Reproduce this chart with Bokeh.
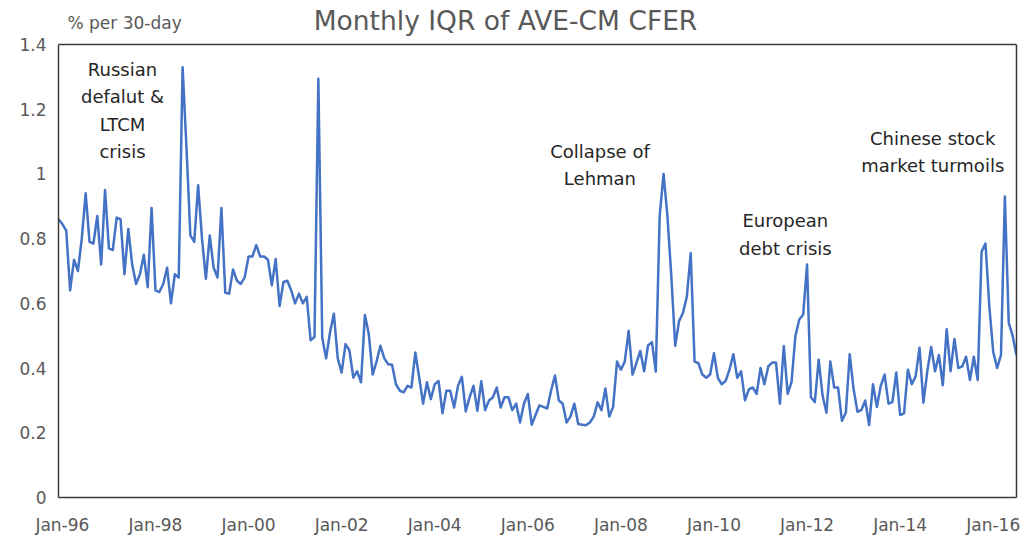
from bokeh.plotting import figure
from bokeh.models import FixedTicker, Label, LinearAxis, Span
from bokeh.embed import file_html
from bokeh.resources import INLINE

# ---- data (monthly IQR, % per 30-day) ----
iqr_a = [0.86, 0.845, 0.825, 0.64, 0.735, 0.70, 0.80, 0.94, 0.79, 0.785, 0.87, 0.72,
         0.95, 0.77, 0.765, 0.865, 0.86, 0.69, 0.83, 0.72, 0.66, 0.69, 0.75, 0.65]
iqr_b = [0.895, 0.64, 0.635, 0.66, 0.71, 0.60, 0.69, 0.68, 1.33, 1.08, 0.81, 0.79,
         0.965, 0.80, 0.676, 0.81, 0.71, 0.68, 0.895, 0.633, 0.63, 0.705, 0.67, 0.66]
iqr_c = [0.68, 0.745, 0.745, 0.78, 0.745, 0.745, 0.735, 0.656, 0.737, 0.592, 0.666, 0.67,
         0.64, 0.60, 0.63, 0.60, 0.62, 0.486, 0.496, 1.294, 0.494, 0.43, 0.51, 0.568]
iqr_d = [0.43, 0.386, 0.474, 0.455, 0.371, 0.39, 0.356, 0.564, 0.505, 0.38, 0.42, 0.469,
         0.43, 0.412, 0.41, 0.35, 0.33, 0.325, 0.345, 0.34, 0.448, 0.37, 0.29, 0.356]
iqr_e = [0.304, 0.35, 0.36, 0.26, 0.33, 0.33, 0.278, 0.345, 0.373, 0.266, 0.31, 0.345,
         0.268, 0.359, 0.27, 0.30, 0.31, 0.34, 0.278, 0.31, 0.31, 0.27, 0.29, 0.232]
iqr_f = [0.29, 0.32, 0.225, 0.255, 0.285, 0.28, 0.275, 0.33, 0.377, 0.30, 0.29, 0.232,
         0.25, 0.29, 0.227, 0.225, 0.223, 0.232, 0.25, 0.294, 0.27, 0.337, 0.25, 0.28]
iqr_g = [0.42, 0.395, 0.42, 0.515, 0.38, 0.415, 0.453, 0.39, 0.47, 0.48, 0.389, 0.87,
         1.0, 0.87, 0.685, 0.469, 0.545, 0.57, 0.62, 0.755, 0.42, 0.415, 0.38, 0.37]
iqr_h = [0.38, 0.446, 0.37, 0.35, 0.36, 0.395, 0.443, 0.37, 0.39, 0.30, 0.334, 0.34,
         0.32, 0.40, 0.35, 0.405, 0.417, 0.417, 0.29, 0.468, 0.32, 0.357, 0.50, 0.55]
iqr_i = [0.565, 0.72, 0.31, 0.295, 0.426, 0.315, 0.262, 0.42, 0.34, 0.34, 0.237, 0.262,
         0.443, 0.335, 0.265, 0.27, 0.30, 0.224, 0.35, 0.28, 0.345, 0.38, 0.29, 0.295]
iqr_j = [0.386, 0.255, 0.26, 0.395, 0.35, 0.375, 0.463, 0.293, 0.39, 0.465, 0.39, 0.44,
         0.347, 0.52, 0.39, 0.49, 0.40, 0.405, 0.435, 0.363, 0.435, 0.363, 0.76, 0.785]
iqr_k = [0.59, 0.45, 0.40, 0.44, 0.93, 0.54, 0.50, 0.44]

tick_labels = ["Jan-96", "Jan-98", "Jan-00", "Jan-02", "Jan-04", "Jan-06",
               "Jan-08", "Jan-10", "Jan-12", "Jan-14", "Jan-16"]
y_ticks = [0, 0.2, 0.4, 0.6, 0.8, 1.0, 1.2, 1.4]
y_tick_labels = ["0", "0.2", "0.4", "0.6", "0.8", "1", "1.2", "1.4"]

title_text = "Monthly IQR of AVE-CM CFER"
unit_text = "% per 30-day"
note_russia = "Russian\ndefalut &\nLTCM\ncrisis"
note_lehman = "Collapse of\nLehman"
note_europe = "European\ndebt crisis"
note_china = "Chinese stock\nmarket turmoils"

iqr = iqr_a + iqr_b + iqr_c + iqr_d + iqr_e + iqr_f + iqr_g + iqr_h + iqr_i + iqr_j + iqr_k
months = list(range(len(iqr)))

FONT = "DejaVu Sans"
GRAY = "#595959"
DARK = "#262626"
FRAME = "#3a3a3a"
Y_MAX = 1.4
Y_TOP = 1.5113  # extra headroom inside the frame for the title row

p = figure(width=1028, height=537, x_range=(0, len(iqr) - 1), y_range=(0, Y_TOP),
           output_backend="svg", toolbar_location=None,
           min_border_left=58, min_border_right=12, min_border_top=8, min_border_bottom=40)

p.line(months, iqr, line_color="#4472C4", line_width=2.5, line_join="round")

# axes
tick_pos = [1 + 24 * i for i in range(len(tick_labels))]
p.xaxis.ticker = FixedTicker(ticks=tick_pos)
p.xaxis.major_label_overrides = {t: l for t, l in zip(tick_pos, tick_labels)}
p.yaxis.ticker = FixedTicker(ticks=y_ticks)
p.yaxis.major_label_overrides = {t: l for t, l in zip(y_ticks, y_tick_labels)}
p.yaxis.bounds = (0, Y_MAX)
right_axis = LinearAxis(bounds=(0, Y_MAX), major_label_text_font_size="0px",
                        major_tick_line_color=None, minor_tick_line_color=None,
                        axis_line_color=FRAME, axis_line_width=1.5,
                        ticker=FixedTicker(ticks=[]))
p.add_layout(right_axis, "right")
for ax in (p.xaxis[0], p.yaxis[0]):
    ax.axis_line_color = FRAME
    ax.axis_line_width = 1.5
    ax.major_tick_line_color = None
    ax.minor_tick_line_color = None
    ax.major_tick_out = 0
    ax.major_tick_in = 0
    ax.major_label_text_font = FONT
    ax.major_label_text_font_size = "17px"
    ax.major_label_text_color = GRAY
p.xaxis.major_label_standoff = 17
p.yaxis[0].major_label_standoff = 12
p.grid.visible = False
p.outline_line_color = None
p.background_fill_color = "white"
p.border_fill_color = "white"

# top edge of the plot box at 1.4
p.add_layout(Span(location=Y_MAX, dimension="width", line_color=FRAME, line_width=1.5))

# title and unit label
p.add_layout(Label(x=115.25, y=1.474, text=title_text, text_font=FONT, text_font_size="26.5px",
                   text_color=GRAY, text_align="center", text_baseline="middle"))
p.add_layout(Label(x=2.32, y=1.468, text=unit_text, text_font=FONT, text_font_size="17px",
                   text_color=GRAY, text_align="left", text_baseline="middle"))

# event annotations
for x, y, t in [(16.5, 1.196, note_russia), (139.6, 1.028, note_lehman),
                (187.4, 0.8125, note_europe), (225.4, 1.068, note_china)]:
    p.add_layout(Label(x=x, y=y, text=t, text_font=FONT, text_font_size="18px",
                       text_color=DARK, text_align="center", text_baseline="middle",
                       text_line_height=1.3))

open("out.html", "w").write(file_html(p, INLINE))
